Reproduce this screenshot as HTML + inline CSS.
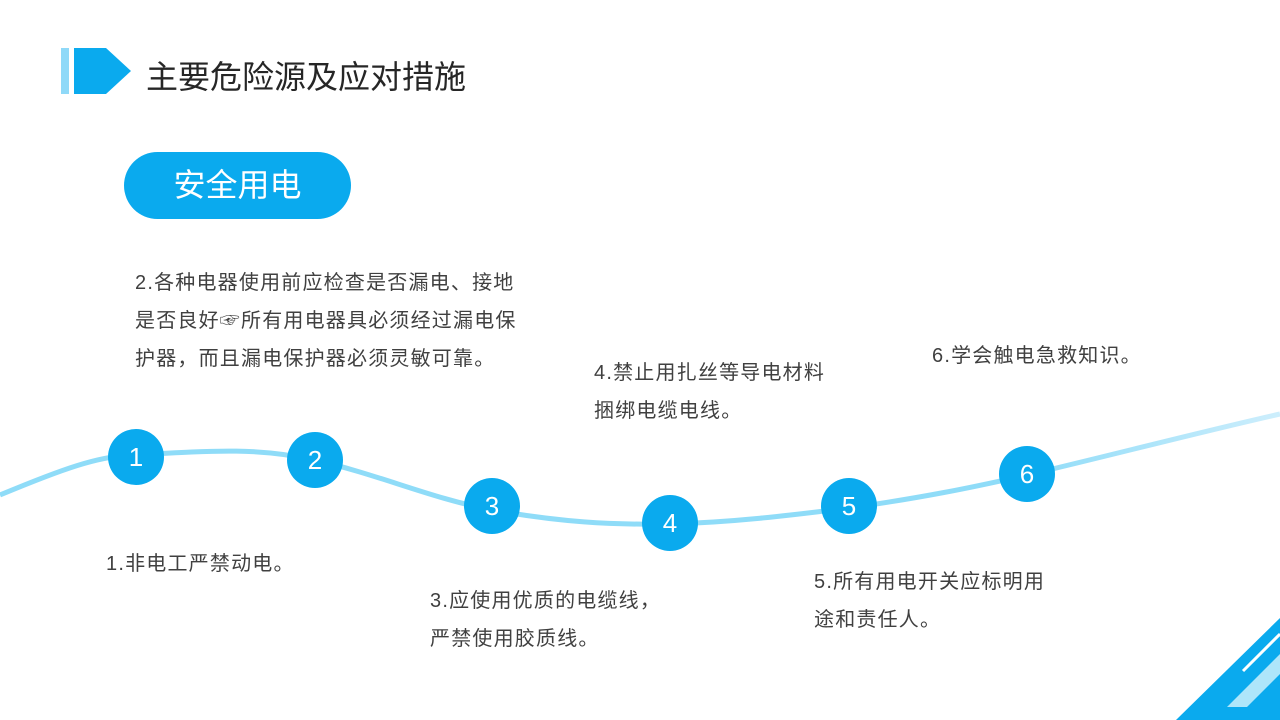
<!DOCTYPE html>
<html><head><meta charset="utf-8"><style>
body{margin:0;width:1280px;height:720px;overflow:hidden;background:#fff;position:relative;font-family:"Liberation Sans","Noto Sans CJK SC",sans-serif;color:#404040}
.t{position:absolute;font-size:20px;line-height:38px;white-space:nowrap;letter-spacing:1.2px}
.c{position:absolute;width:56px;height:56px;border-radius:50%;background:#0aaaee;color:#fff;font-size:26px;text-align:center;line-height:56px}
</style></head><body>
<svg width="1280" height="720" style="position:absolute;left:0;top:0">
<defs><linearGradient id="g" x1="0" x2="1"><stop offset="0" stop-color="#8fdcf8"/><stop offset="0.8" stop-color="#8fdcf8"/><stop offset="1" stop-color="#cdeefc"/></linearGradient></defs>
<rect x="61" y="48" width="8" height="46" fill="#8fd9f8"/>
<polygon points="74,48 106,48 131,71 106,94 74,94" fill="#0aaaee"/>
<path d="M0,495 C60,470 100,455 136,455 C220,450 260,448 315,460 C380,475 430,498 492,510 C560,522 610,525 670,524 C740,522 800,514 849,508 C920,498 970,488 1027,475 C1100,458 1200,432 1280,414" fill="none" stroke="url(#g)" stroke-width="5"/>
<polygon points="1176,720 1280,618 1280,720" fill="#0aaaee"/>
<polygon points="1227,707 1247,707 1280,674 1280,654" fill="#aee6fa"/>
<line x1="1243" y1="671" x2="1280" y2="634" stroke="#fff" stroke-width="3"/>
</svg>
<div style="position:absolute;left:146px;top:52px;font-size:32px;color:#262626">主要危险源及应对措施</div>
<div style="position:absolute;left:124px;top:152px;width:227px;height:67px;border-radius:34px;background:#0aaaee;color:#fff;font-size:32px;line-height:67px;text-align:center">安全用电</div>
<div class="t" style="left:135px;top:264px">2.各种电器使用前应检查是否漏电、接地<br>是否良好☞所有用电器具必须经过漏电保<br>护器，而且漏电保护器必须灵敏可靠。</div>
<div class="t" style="left:594px;top:354px">4.禁止用扎丝等导电材料<br>捆绑电缆电线。</div>
<div class="t" style="left:932px;top:337px">6.学会触电急救知识。</div>
<div class="t" style="left:106px;top:545px">1.非电工严禁动电。</div>
<div class="t" style="left:430px;top:582px">3.应使用优质的电缆线，<br>严禁使用胶质线。</div>
<div class="t" style="left:814px;top:563px">5.所有用电开关应标明用<br>途和责任人。</div>
<div class="c" style="left:108px;top:429px">1</div>
<div class="c" style="left:287px;top:432px">2</div>
<div class="c" style="left:464px;top:478px">3</div>
<div class="c" style="left:642px;top:495px">4</div>
<div class="c" style="left:821px;top:478px">5</div>
<div class="c" style="left:999px;top:446px">6</div>
</body></html>
